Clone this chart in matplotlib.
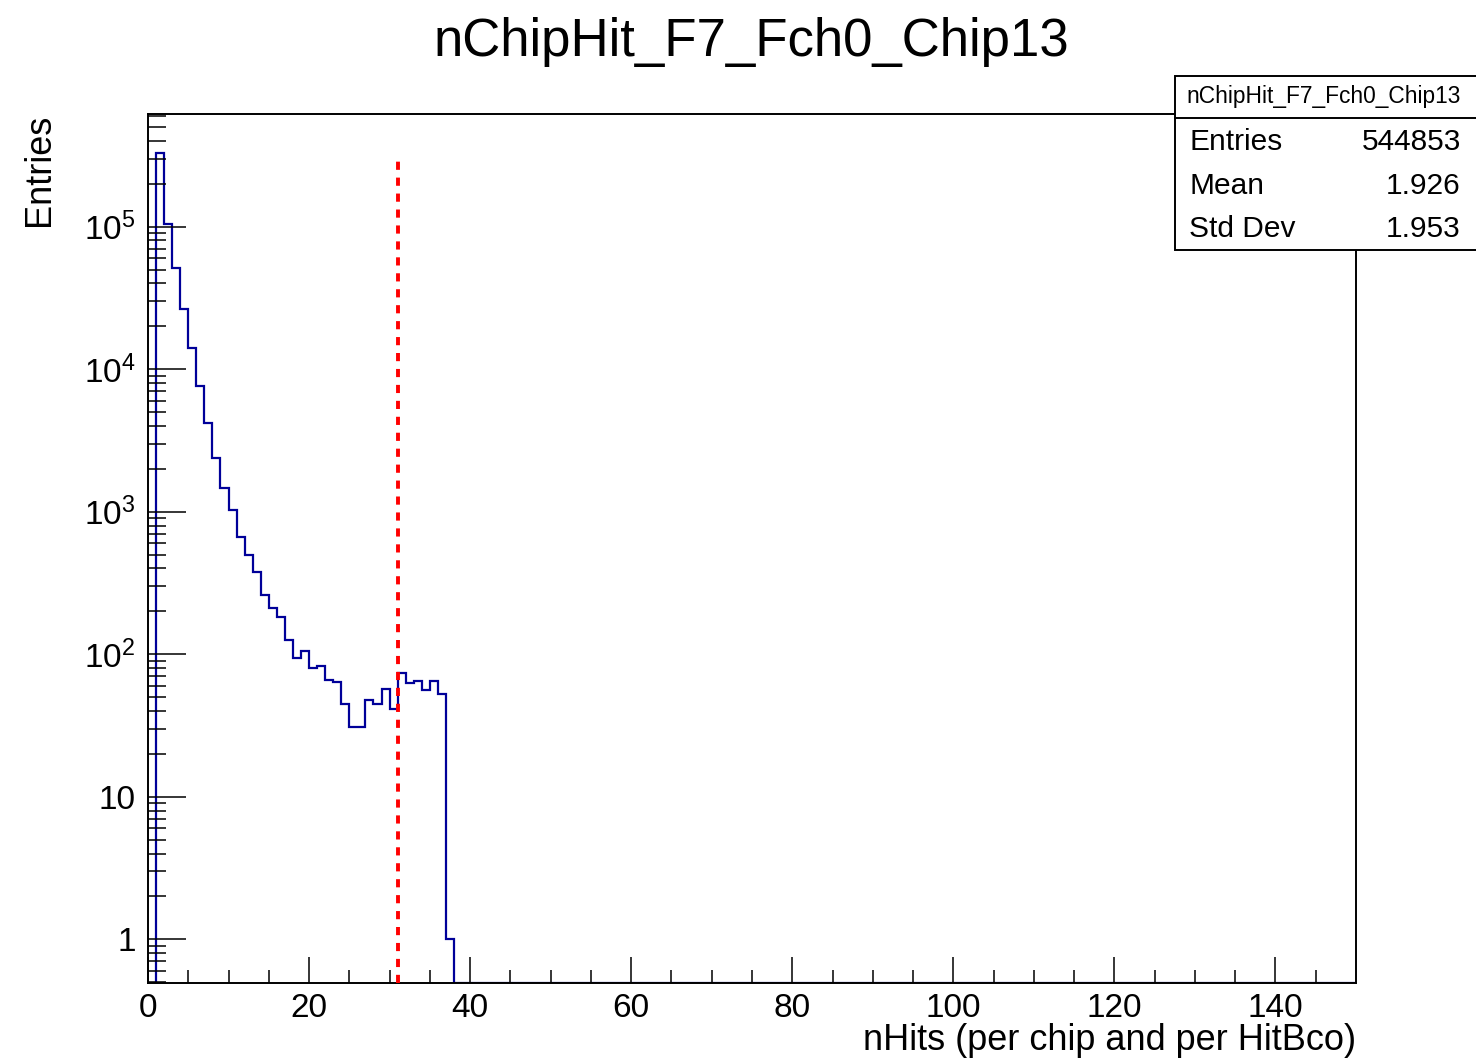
import numpy as np
import matplotlib
matplotlib.use("Agg")
import matplotlib.pyplot as plt
from matplotlib.patches import Rectangle
from matplotlib.ticker import FixedLocator, NullFormatter

plt.rcParams['font.family'] = ['Liberation Sans', 'DejaVu Sans']
plt.rcParams['mathtext.fontset'] = 'custom'
plt.rcParams['mathtext.rm'] = 'Liberation Sans'

# histogram content, 1-wide bins from 0 to 150
bin_edges = np.arange(0, 151, 1)
counts_head = [0, 327000, 105000, 51600, 26600, 14000, 7600, 4225, 2400, 1470,
               1026, 670, 496, 375, 261, 212, 182, 125, 93.5, 106,
               79.5, 82.6, 66.2, 63.4, 45, 30.7, 30.7, 47.7, 44.7, 56.6,
               41.5, 73.3, 62.4, 64.5, 55.7, 64.5, 52.8, 1]
counts = np.zeros(150)
counts[:len(counts_head)] = counts_head

cut_x = 31
cut_top = 3.1e5

title = "nChipHit_F7_Fch0_Chip13"
stat_names = ["Entries", "Mean", "Std Dev"]
stat_values = ["544853", "1.926", "1.953"]

y_lo, y_hi = 0.494, 6.17e5

W, H = 1476, 1062
fig = plt.figure(figsize=(W / 100, H / 100), dpi=100)
ax = fig.add_axes([148 / W, 1 - 983 / H, (1356 - 148) / W, (983 - 114) / H])

ax.set_yscale('log')
ax.set_xlim(0, 150)
ax.set_ylim(y_lo, y_hi)

# empty bins sit on the bottom of the frame, like ROOT does
shown = np.clip(counts, y_lo, None)
ax.stairs(shown, bin_edges, color='#000099', linewidth=1.6, baseline=None)

ax.vlines(cut_x, y_lo, cut_top, colors='#ff0000', linewidth=2.8,
          linestyles=(0, (2.1, 2.0)), zorder=3)

# ticks
ax.xaxis.set_major_locator(FixedLocator(np.arange(0, 141, 20)))
ax.xaxis.set_minor_locator(FixedLocator(np.arange(0, 150, 5)))
ax.set_xticklabels([str(v) for v in range(0, 141, 20)])

majors = [1, 10, 1e2, 1e3, 1e4, 1e5]
ax.yaxis.set_major_locator(FixedLocator(majors))
ax.set_yticklabels(['1', '10', r'$\mathregular{10^{2}}$', r'$\mathregular{10^{3}}$',
                    r'$\mathregular{10^{4}}$', r'$\mathregular{10^{5}}$'])
minors = [m * 10.0 ** e for e in range(-1, 6) for m in range(2, 10)]
minors = [v for v in minors if y_lo < v < y_hi]
ax.yaxis.set_minor_locator(FixedLocator(minors))
ax.yaxis.set_minor_formatter(NullFormatter())

ax.tick_params(axis='x', which='major', direction='in', length=19, width=1.1,
               labelsize=24, pad=7, top=False)
ax.tick_params(axis='x', which='minor', direction='in', length=9.5, width=1.1, top=False)
ax.tick_params(axis='y', which='major', direction='in', length=27, width=1.1,
               labelsize=24, pad=9, right=False)
ax.tick_params(axis='y', which='minor', direction='in', length=13, width=1.1, right=False)
for s in ax.spines.values():
    s.set_linewidth(1.4)

fig.text(751 / W, 1 - 42 / H, title, ha='center', va='center', fontsize=38)
fig.text(1356 / W, 1 - 1040 / H, "nHits (per chip and per HitBco)",
         ha='right', va='center', fontsize=26)
fig.text(40 / W, 1 - 114 / H, "Entries", rotation=90, ha='center', va='top', fontsize=26)

# stats box
box = Rectangle((1175 / W, 1 - 250 / H), (1480 - 1175) / W, (250 - 76) / H,
                transform=fig.transFigure, facecolor='white', edgecolor='black',
                linewidth=1.4, zorder=5)
fig.patches.append(box)
fig.lines.append(plt.Line2D([1175 / W, 1], [1 - 118 / H, 1 - 118 / H],
                            transform=fig.transFigure, color='black', linewidth=1.4, zorder=6))
fig.text(1324 / W, 1 - 97 / H, title, ha='center', va='center', fontsize=16.4, zorder=7)
for i, (n, v) in enumerate(zip(stat_names, stat_values)):
    yy = 1 - (142 + 43.5 * i) / H
    fig.text(1189 / W, yy, n, ha='left', va='center', fontsize=21.5, zorder=7)
    fig.text(1461 / W, yy, v, ha='right', va='center', fontsize=21.5, zorder=7)

fig.savefig("out.png", dpi=100)
